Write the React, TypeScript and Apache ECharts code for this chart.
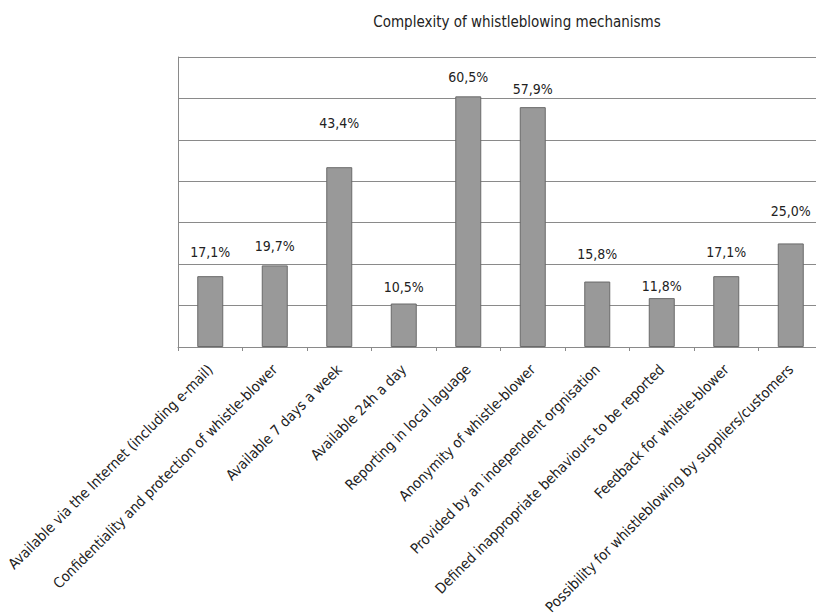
import React, { useEffect, useRef } from "react";
import * as echarts from "echarts";

const categories = [
  "Available via the Internet (including e-mail)",
  "Confidentiality and protection of whistle-blower",
  "Available 7 days a week",
  "Available 24h a day",
  "Reporting in local laguage",
  "Anonymity of whistle-blower",
  "Provided by an independent orgnisation",
  "Defined inappropriate behaviours to be reported",
  "Feedback for whistle-blower",
  "Possibility for whistleblowing by suppliers/customers",
];
const values = [17.1, 19.7, 43.4, 10.5, 60.5, 57.9, 15.8, 11.8, 17.1, 25.0];
const labelLift = [17, 12, 37, 10, 12, 11, 21, 5, 17, 25];

const FONT = "'Liberation Sans Narrow', 'DejaVu Sans Condensed', 'Noto Sans', sans-serif";

export default function App() {
  const ref = useRef<HTMLDivElement>(null);
  useEffect(() => {
    if (!ref.current) return;
    const chart = echarts.init(ref.current, null, { renderer: "svg" });
    chart.setOption({
      animation: false,
      backgroundColor: "#ffffff",
      title: {
        text: "Complexity of whistleblowing mechanisms",
        left: 512,
        top: 9,
        textAlign: "center",
        textStyle: { fontFamily: FONT, fontSize: 15, fontWeight: "normal", color: "#222" },
      },
      grid: {
        left: 178,
        right: -7,
        top: 57,
        bottom: 267,
        containLabel: false,
        outerBoundsMode: "none",
      },
      xAxis: {
        type: "category",
        data: categories,
        axisLine: { show: true, lineStyle: { color: "#8a8a8a", width: 1 } },
        axisTick: { show: true, length: 4, lineStyle: { color: "#8a8a8a" } },
        axisLabel: {
          rotate: 45,
          interval: 0,
          margin: 20,
          fontFamily: FONT,
          fontSize: 14.5,
          color: "#222",
        },
      },
      yAxis: {
        type: "value",
        min: 0,
        max: 70,
        interval: 10,
        axisLine: { show: true, lineStyle: { color: "#8a8a8a", width: 1 } },
        axisTick: { show: false },
        axisLabel: { show: false },
        splitLine: { show: true, lineStyle: { color: "#8a8a8a", width: 1 } },
      },
      series: [
        {
          type: "bar",
          barWidth: 26,
          data: values.map((v, i) => ({
            value: v,
            label: { distance: labelLift[i] },
          })),
          itemStyle: { color: "#999999", borderColor: "#6a6a6a", borderWidth: 1 },
          label: {
            show: true,
            position: "top",
            fontFamily: FONT,
            fontSize: 14,
            color: "#222",
            formatter: (p: any) => p.value.toFixed(1).replace(".", ",") + "%",
          },
        },
      ],
    });
    return () => chart.dispose();
  }, []);
  return <div ref={ref} style={{ width: 816, height: 614, position: "absolute", left: 0, top: 0 }} />;
}
